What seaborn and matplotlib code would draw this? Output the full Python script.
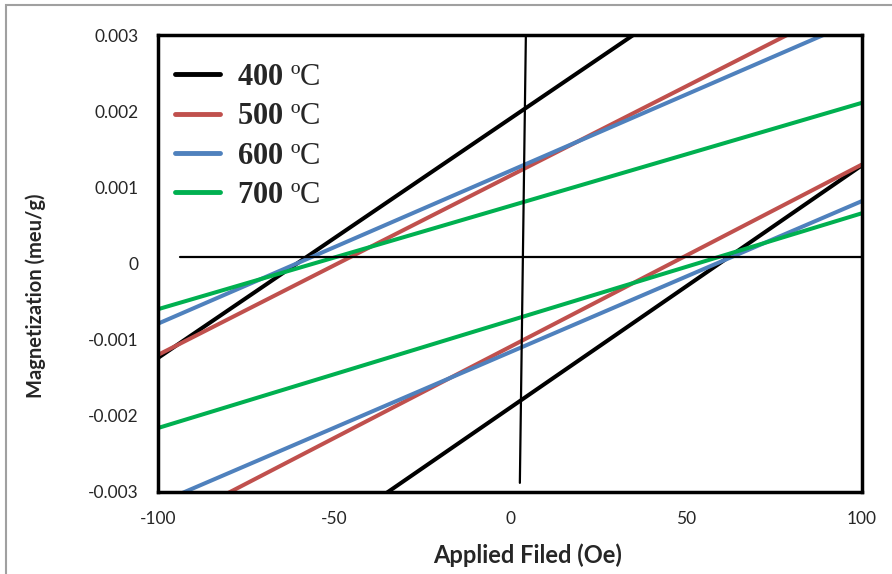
import matplotlib
matplotlib.use("Agg")
import matplotlib.pyplot as plt
import matplotlib.patches as mpatches
from matplotlib.lines import Line2D
import seaborn as sns
import pandas as pd

# ---- data ----
temps = ["400 ºC", "500 ºC", "600 ºC", "700 ºC"]
field_ends = [-100, 100]
upper_400 = [-0.00124, 0.00504]
lower_400 = [-0.00508, 0.00129]
upper_500 = [-0.00120, 0.00350]
lower_500 = [-0.00349, 0.00130]
upper_600 = [-0.00079, 0.00322]
lower_600 = [-0.00315, 0.00082]
upper_700 = [-0.00060, 0.00211]
lower_700 = [-0.00216, 0.00066]
hline_x = [-93.8, 100]
hline_y = [0.00009, 0.00009]
vline_x = [2.8, 4.5]
vline_y = [-0.00288, 0.00297]
xticks = [-100, -50, 0, 50, 100]
yticks = [-0.003, -0.002, -0.001, 0, 0.001, 0.002, 0.003]
ytick_labels = ["-0.003", "-0.002", "-0.001", "0", "0.001", "0.002", "0.003"]

colors = ["#000000", "#C0504D", "#4F81BD", "#00B050"]

branches = {
    "400 ºC": (upper_400, lower_400),
    "500 ºC": (upper_500, lower_500),
    "600 ºC": (upper_600, lower_600),
    "700 ºC": (upper_700, lower_700),
}
rows = []
for t in temps:
    up, lo = branches[t]
    for name, ys in (("up", up), ("down", lo)):
        for x, y in zip(field_ends, ys):
            rows.append({"field": x, "m": y, "temp": t, "branch": name})
df = pd.DataFrame(rows)

sns.set_style("white")
plt.rcParams["axes.unicode_minus"] = False
plt.rcParams["mathtext.fontset"] = "custom"
plt.rcParams["mathtext.rm"] = "Liberation Serif"
plt.rcParams["mathtext.bf"] = "Liberation Serif:bold"

fig = plt.figure(figsize=(8.92, 5.74), dpi=100)
ax = fig.add_axes([158 / 892, 1 - 492 / 574, 704 / 892, 457 / 574])

sns.lineplot(data=df, x="field", y="m", hue="temp", units="branch",
             estimator=None, palette=dict(zip(temps, colors)),
             hue_order=temps, linewidth=2.9, legend=False, ax=ax)

ax.plot(hline_x, hline_y, color="black", linewidth=1.6)
ax.plot(vline_x, vline_y, color="black", linewidth=1.6)

ax.set_xlim(-100, 100)
ax.set_ylim(-0.003, 0.003)
ax.set_xticks(xticks)
ax.set_xticklabels([str(v) for v in xticks])
ax.set_yticks(yticks)
ax.set_yticklabels(ytick_labels)
ax.tick_params(axis="both", direction="out", length=6, width=1,
               color="#888888", labelsize=12.5, pad=8)
for lab in ax.get_xticklabels() + ax.get_yticklabels():
    lab.set_family("Lato")

for sp in ax.spines.values():
    sp.set_color("black")
    sp.set_linewidth(2.5)
    sp.set_visible(True)

ax.set_xlabel("Applied Filed (Oe)", fontsize=17, fontweight="bold",
              family="Lato", va="center")
ax.set_ylabel("Magnetization (meu/g)", fontsize=14.5, fontweight="bold",
              family="Lato", va="center")
ax.xaxis.set_label_coords((528 - 158) / 704, -(555 - 492) / 457)
ax.yaxis.set_label_coords(-(158 - 36) / 704, 1 - (296 - 35) / 457)

handles = [Line2D([0], [0], color=c, linewidth=3.5) for c in colors]
labels = [r"$\mathbf{" + t.split()[0] + r"}$ ºC" for t in temps]
leg = ax.legend(handles, labels, loc="upper left",
                bbox_to_anchor=(17 / 704, 1 - 28 / 457), frameon=False,
                borderpad=0, borderaxespad=0, handlelength=1.47,
                handletextpad=0.55, labelspacing=0.34,
                prop={"family": "Liberation Serif", "size": 22})

fig.patches.append(mpatches.Rectangle((6 / 892, -0.05), 1.2, 1 - 5 / 574 + 0.05,
                                      transform=fig.transFigure, fill=False,
                                      edgecolor="#A0A0A0", linewidth=1.5))

fig.savefig("out.png", dpi=100)
